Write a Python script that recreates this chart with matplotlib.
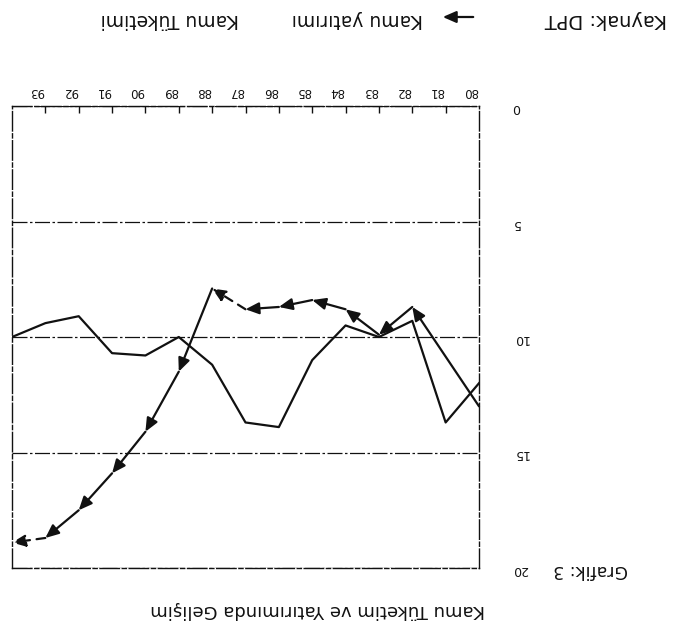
import numpy as np
import matplotlib
matplotlib.use("Agg")
import matplotlib.pyplot as plt
from matplotlib.patches import FancyArrowPatch

years = ["80", "81", "82", "83", "84", "85", "86", "87", "88", "89", "90", "91", "92", "93"]
kamu_tuketimi = [12.0, 13.7, 9.3, 10.0, 9.5, 11.0, 13.9, 13.7, 11.2, 10.0, 10.8, 10.7, 9.1, 9.4, 10.0]
# no mark at the second position: the line runs straight from the first point to the third
kamu_yatirimi = [13.0, None, 8.7, 9.9, 8.8, 8.4, 8.7, 8.8, 7.9, 11.5, 14.1, 15.9, 17.5, 18.7, 18.9]
y_ticks = [0, 5, 10, 15, 20]

ink = "#111111"
plt.rcParams["font.family"] = ["DejaVu Sans"]

fig = plt.figure(figsize=(6.88, 6.39), dpi=100)
ax = fig.add_axes([12 / 688, 71 / 639, 467 / 688, 462 / 639])

pos = np.arange(len(kamu_tuketimi))
ax.plot(pos, kamu_tuketimi, color=ink, lw=1.6)

# investment series: arrowhead at every point, pointing in the direction of time
pts = [(p, v) for p, v in zip(pos, kamu_yatirimi) if v is not None]
for (x0, y0), (x1, y1) in zip(pts[:-1], pts[1:]):
    ls = (0, (4, 3)) if x1 in (8, 14) else "-"
    ax.annotate("", xy=(x1, y1), xytext=(x0, y0),
                arrowprops=dict(arrowstyle="-|>,head_length=0.8,head_width=0.35", color=ink,
                                lw=1.6, ls=ls, shrinkA=0, shrinkB=0, mutation_scale=10))

# the whole page is scanned upside down: flip both axes, rotate the text
ax.set_xlim(len(kamu_tuketimi) - 1, 0)
ax.set_ylim(20, 0)

ax.set_xticks(np.arange(1, len(kamu_tuketimi) - 1))
ax.tick_params(axis="x", which="major", top=True, bottom=False, direction="in", length=5,
               width=1, color=ink, labeltop=False, labelbottom=False)
ax.set_xticks(np.arange(len(years)) + 0.25, labels=years, minor=True)
ax.tick_params(axis="x", which="minor", top=False, bottom=False, length=0, pad=6,
               labeltop=True, labelbottom=False, labelsize=8.5, labelrotation=180, labelcolor=ink)

ax.set_yticks(y_ticks)
ax.yaxis.tick_right()
ax.tick_params(axis="y", length=0, pad=24, labelsize=9, labelrotation=180, labelcolor=ink)

ax.grid(axis="y", color=ink, lw=0.9, ls=(0, (12, 2, 2, 2)))
ax.grid(axis="x", visible=False)
for side in ax.spines.values():
    side.set_color(ink)
    side.set_linewidth(1.0)
    side.set_linestyle((0, (14, 2, 3, 2)))

txt = dict(rotation=180, ha="center", va="center", color=ink)
fig.text(606 / 688, 1 - 20 / 639, "Kaynak: DPT", fontsize=14, fontweight="medium", **txt)
fig.text(357 / 688, 1 - 20 / 639, "Kamu yatırımı", fontsize=13.5, **txt)
fig.text(170 / 688, 1 - 20 / 639, "Kamu Tüketimi", fontsize=13.5, **txt)
fig.text(591 / 688, 1 - 570 / 639, "Grafik: 3", fontsize=12.5, **txt)
fig.text(318 / 688, 1 - 610 / 639, "Kamu Tüketim ve Yatırımında Gelişim", fontsize=13, **txt)

# legend arrow for the investment line
fig.add_artist(FancyArrowPatch(
    (476 / 688, 1 - 17 / 639), (440 / 688, 1 - 17 / 639), transform=fig.transFigure,
    arrowstyle="-|>,head_length=0.8,head_width=0.35", mutation_scale=10, color=ink, lw=1.6))

fig.savefig("out.png", dpi=100)
